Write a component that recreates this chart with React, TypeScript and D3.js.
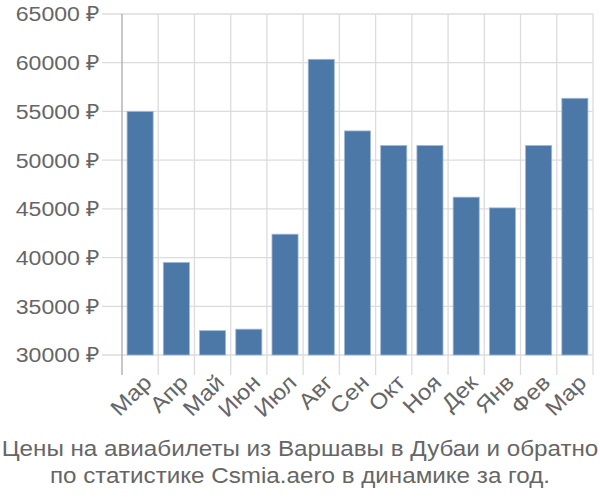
import React from "react";
import * as d3 from "d3";

const months = ["Мар", "Апр", "Май", "Июн", "Июл", "Авг", "Сен", "Окт", "Ноя", "Дек", "Янв", "Фев", "Мар"];
const prices = [55000, 39500, 32500, 32650, 42400, 60350, 53000, 51500, 51500, 46200, 45100, 51500, 56350];
const yTicks = [30000, 35000, 40000, 45000, 50000, 55000, 60000, 65000];
const titleLines = [
  "Цены на авиабилеты из Варшавы в Дубаи и обратно",
  "по статистике Csmia.aero в динамике за год.",
];

const W = 600;
const H = 500;
const left = 122;
const right = 593;
const top = 14;
const bottom = 355;
const font = "'Liberation Sans', Arial, sans-serif";
const sx = 1.1;

export default function App() {
  const idx = months.map((_, i) => i);
  const x = d3.scaleBand<number>().domain(idx).range([left, right]).paddingInner(0.28).paddingOuter(0.14);
  const xb = d3.scaleBand<number>().domain(idx).range([left, right]);
  const y = d3.scaleLinear().domain([30000, 65000]).range([bottom, top]);

  return (
    <svg width={W} height={H} style={{ position: "absolute", left: 0, top: 0 }}>
      <rect width={W} height={H} fill="#fff" />
      {yTicks.map((t) => (
        <line key={"h" + t} x1={102} x2={right} y1={y(t)} y2={y(t)} stroke="#dcdcdc" strokeWidth={1.3} />
      ))}
      {idx.map((i) => (
        <line key={"v" + i} x1={xb(i)! + xb.bandwidth()} x2={xb(i)! + xb.bandwidth()} y1={top} y2={bottom + 20} stroke="#dcdcdc" strokeWidth={1.3} />
      ))}
      <line x1={left} x2={left} y1={top} y2={bottom + 20} stroke="#aaaaaa" strokeWidth={1.3} />
      {prices.map((v, i) => (
        <rect key={"b" + i} x={x(i)} y={y(v)} width={x.bandwidth()} height={bottom - y(v)} fill="#4c78a8" stroke="#9fb8d6" strokeWidth={0.8} />
      ))}
      {yTicks.map((t) => (
        <text key={"t" + t} transform={`translate(100,${y(t)}) scale(${sx},1)`} dy="0.35em" textAnchor="end" fontSize={21} fill="#666" fontFamily={font}>
          {t} ₽
        </text>
      ))}
      {months.map((m, i) => (
        <text
          key={"m" + i}
          transform={`translate(${xb(i)! + xb.bandwidth() / 2 + 2},${bottom + 18}) rotate(-45) scale(${sx},1)`}
          textAnchor="end"
          dy="0.7em"
          fontSize={22}
          fill="#666"
          fontFamily={font}
        >
          {m}
        </text>
      ))}
      {titleLines.map((l, i) => (
        <text key={"ti" + i} transform={`translate(${W / 2},${456 + i * 27}) scale(${sx},1)`} textAnchor="middle" fontSize={22} fill="#666" fontFamily={font}>
          {l}
        </text>
      ))}
    </svg>
  );
}
